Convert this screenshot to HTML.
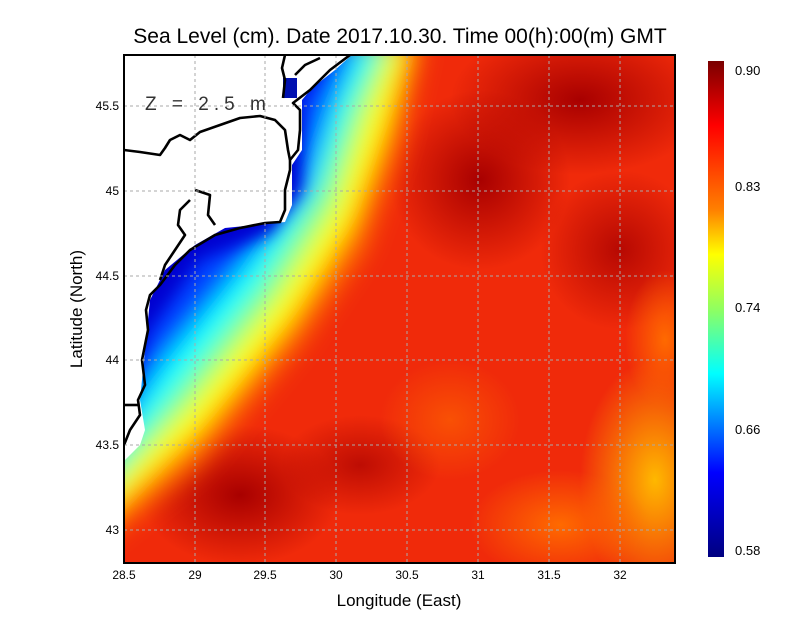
<!DOCTYPE html>
<html><head><meta charset="utf-8"><style>
body{margin:0;background:#fff;}
svg text{font-family:"Liberation Sans",sans-serif;}
</style></head><body>
<svg width="800" height="618" viewBox="0 0 800 618" xmlns="http://www.w3.org/2000/svg">
<defs>
<filter id="b" filterUnits="userSpaceOnUse" x="0" y="0" width="800" height="618"><feGaussianBlur stdDeviation="12"/></filter>
<filter id="b3" filterUnits="userSpaceOnUse" x="0" y="0" width="800" height="618"><feGaussianBlur stdDeviation="8"/></filter>
<clipPath id="cp"><rect x="124" y="55" width="551" height="508"/></clipPath>
<radialGradient id="dr"><stop offset="0" stop-color="#a80000" stop-opacity="1"/><stop offset="1" stop-color="#a80000" stop-opacity="0"/></radialGradient>
<radialGradient id="yo"><stop offset="0" stop-color="#ffb800" stop-opacity="1"/><stop offset="1" stop-color="#ffb800" stop-opacity="0"/></radialGradient>
<radialGradient id="or"><stop offset="0" stop-color="#ff6a00" stop-opacity="1"/><stop offset="1" stop-color="#ff6a00" stop-opacity="0"/></radialGradient>
<linearGradient id="cb" x1="0" y1="0" x2="0" y2="1">
<stop offset="0" stop-color="#7a0000"/>
<stop offset="0.13" stop-color="#ff0000"/>
<stop offset="0.3" stop-color="#ff8000"/>
<stop offset="0.39" stop-color="#ffff00"/>
<stop offset="0.5" stop-color="#90ff60"/>
<stop offset="0.63" stop-color="#00ffff"/>
<stop offset="0.83" stop-color="#0000ff"/>
<stop offset="1" stop-color="#000080"/>
</linearGradient>
</defs>
<text x="400" y="43" font-size="21" text-anchor="middle">Sea Level (cm). Date 2017.10.30. Time 00(h):00(m) GMT</text>
<g clip-path="url(#cp)">
<rect x="124" y="55" width="551" height="508" fill="#f02a0a"/>
<ellipse cx="240" cy="495" rx="100" ry="70" fill="url(#dr)"/>
<ellipse cx="360" cy="465" rx="80" ry="50" fill="url(#dr)" opacity="0.7"/>
<ellipse cx="480" cy="180" rx="90" ry="90" fill="url(#dr)"/>
<ellipse cx="580" cy="100" rx="130" ry="75" fill="url(#dr)"/>
<ellipse cx="620" cy="250" rx="80" ry="80" fill="url(#dr)" opacity="0.8"/>
<ellipse cx="655" cy="480" rx="75" ry="120" fill="url(#yo)"/>
<ellipse cx="560" cy="525" rx="90" ry="55" fill="url(#or)"/>
<ellipse cx="665" cy="340" rx="40" ry="70" fill="url(#or)"/>
<ellipse cx="450" cy="420" rx="70" ry="60" fill="url(#or)" opacity="0.6"/>
<g filter="url(#b)">
<polygon points="100,545 200,465 300,345 365,250 400,150 425,40 100,40" fill="#ff7000"/>
<polygon points="100,520 200,430 290,320 350,225 385,130 410,40 100,40" fill="#ffff00"/>
<polygon points="100,500 190,405 275,300 335,205 365,115 395,40 100,40" fill="#80ff80"/>
<polygon points="100,485 180,385 260,285 320,190 350,105 380,40 100,40" fill="#00ffff"/>
<polygon points="100,465 165,360 240,270 305,195 330,110 360,40 100,40" fill="#0040ff"/>
</g>
<g filter="url(#b3)">
<polygon points="100,455 150,330 200,260 270,232 300,190 300,100 340,40 100,40" fill="#0000d0"/>
</g>
<polygon points="120,465 140,445 145,430 140,400 150,300 165,270 195,245 225,228 285,222 292,205 292,165 302,150 302,100 312,88 335,70 355,52 100,52" fill="#fff"/>
<rect x="283" y="78" width="14" height="20" fill="#0010b0"/>
<g fill="none" stroke="#000" stroke-width="2.6" stroke-linejoin="round">
<path d="M124,445 L130,430 L140,415 L138,400 L145,385 L142,360 L148,330 L146,310 L150,295 L160,285 L175,265 L190,250 L215,235 L240,228 L265,223 L280,222 L285,210 L285,190 L290,170 L290,160 L298,150 L300,130 L300,110 L293,103 L310,90 L330,70 L350,55"/>
<path d="M124,150 L140,152 L160,155 L165,148 L170,140 L180,135 L190,140 L200,132 L220,125 L240,118 L260,116 L275,120 L285,130 L288,150 L290,160"/>
<path d="M124,405 L138,405"/>
<path d="M283,98 L285,80 L282,68 L285,55"/>
<path d="M295,75 L305,65 L320,58"/>
<path d="M190,200 L180,210 L178,225 L185,235 L175,250 L165,265 L160,280"/>
<path d="M195,190 L210,195 L208,215 L215,225"/>
</g>
</g>
<g stroke="#aaa" stroke-width="1" stroke-dasharray="3,3">
<line x1="195" y1="55" x2="195" y2="563"/><line x1="265" y1="55" x2="265" y2="563"/><line x1="336" y1="55" x2="336" y2="563"/><line x1="407" y1="55" x2="407" y2="563"/><line x1="478" y1="55" x2="478" y2="563"/><line x1="549" y1="55" x2="549" y2="563"/><line x1="620" y1="55" x2="620" y2="563"/>
<line x1="124" y1="106" x2="675" y2="106"/><line x1="124" y1="191" x2="675" y2="191"/><line x1="124" y1="276" x2="675" y2="276"/><line x1="124" y1="360" x2="675" y2="360"/><line x1="124" y1="445" x2="675" y2="445"/><line x1="124" y1="530" x2="675" y2="530"/>
</g>
<text x="145" y="110" font-size="19" fill="#333" letter-spacing="5">Z = 2.5 m</text>
<rect x="124" y="55" width="551" height="508" fill="none" stroke="#000" stroke-width="2"/>
<g font-size="12" text-anchor="middle">
<text x="124" y="579">28.5</text><text x="195" y="579">29</text><text x="265" y="579">29.5</text><text x="336" y="579">30</text><text x="407" y="579">30.5</text><text x="478" y="579">31</text><text x="549" y="579">31.5</text><text x="620" y="579">32</text>
</g>
<g font-size="12" text-anchor="end">
<text x="119" y="110">45.5</text><text x="119" y="195">45</text><text x="119" y="280">44.5</text><text x="119" y="364">44</text><text x="119" y="449">43.5</text><text x="119" y="534">43</text>
</g>
<text x="399" y="606" font-size="17" text-anchor="middle">Longitude (East)</text>
<text transform="translate(82,309) rotate(-90)" font-size="17" text-anchor="middle">Latitude (North)</text>
<rect x="708" y="61" width="16" height="496" fill="url(#cb)"/>
<g font-size="13">
<text x="735" y="75">0.90</text><text x="735" y="191">0.83</text><text x="735" y="312">0.74</text><text x="735" y="434">0.66</text><text x="735" y="555">0.58</text>
</g>
</svg>
</body></html>
